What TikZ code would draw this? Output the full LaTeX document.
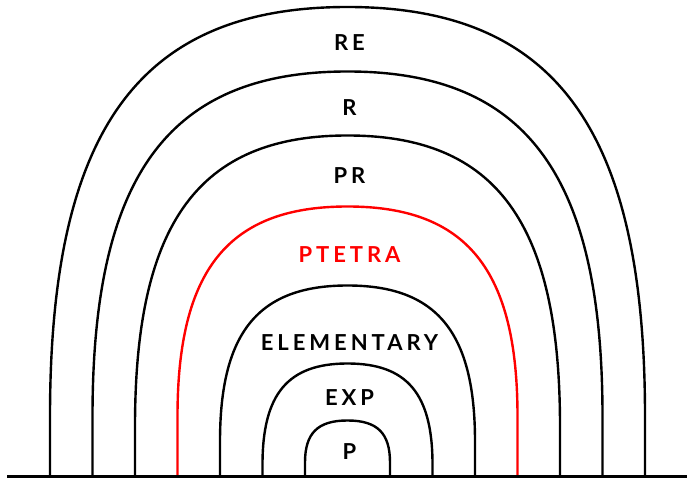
\documentclass[tikz,border=0pt]{standalone}
\usepackage{fontspec}
\newfontfamily\labfont{Lato}[LetterSpace=18]
\tikzset{
  archline/.style={line width=2.4pt, line join=round},
  lab/.style={inner sep=0pt, font=\labfont\bfseries\fontsize{22}{22}\selectfont},
}
% \archpath{half width}{height}{vertical part}
\newcommand{\archpath}[3]{%
  (347.5-#1,1.5) -- (347.5-#1,1.5+#3)
  .. controls (347.5-#1,{1.5+#3+0.7*(#2-#3)}) and ({347.5-0.7*#1},1.5+#2) .. (347.5,1.5+#2)
  .. controls ({347.5+0.7*#1},1.5+#2) and (347.5+#1,{1.5+#3+0.7*(#2-#3)}) .. (347.5+#1,1.5+#3)
  -- (347.5+#1,1.5)}
\begin{document}
\begin{tikzpicture}[x=1pt,y=1pt]
\useasboundingbox (0,0) rectangle (687,478);
\draw[archline] \archpath{297.5}{469.5}{60};
\draw[archline] \archpath{255}{405}{60};
\draw[archline] \archpath{212.5}{341}{50};
\draw[archline, red] \archpath{170}{270}{60};
\draw[archline] \archpath{127.5}{191}{35};
\draw[archline] \archpath{85}{113}{12};
\draw[archline] \archpath{42.5}{56}{14};
\coordinate (bl) at (7,1.5);
\coordinate (br) at (687,1.5);
\draw[line width=2.4pt] (bl) -- (br);
\node[lab] (re) at (349.5,435.3) {RE};
\node[lab] (r) at (349.5,370.7) {R};
\node[lab] (pr) at (349.5,302) {PR};
\node[lab, text=red] (ptetra) at (349.5,223) {PTETRA};
\node[lab] (elem) at (349.5,135.7) {ELEMENTARY};
\node[lab] (exp) at (349.5,80.7) {EXP};
\node[lab] (p) at (349.5,26.3) {P};
\end{tikzpicture}
\end{document}
